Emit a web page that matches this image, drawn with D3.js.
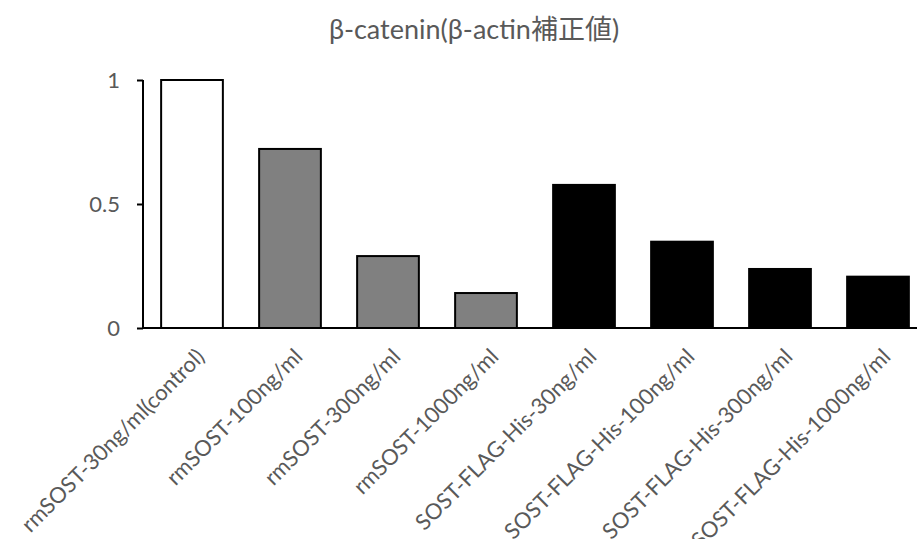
<!DOCTYPE html>
<html><head><meta charset="utf-8">
<script src="https://cdn.jsdelivr.net/npm/d3@7"></script>
<style>body{margin:0;background:#fff;} text{font-family:Lato,"Noto Sans CJK JP",sans-serif;}</style>
</head><body>
<svg id="chart" width="917" height="539"></svg>
<script>
const categories = ["rmSOST-30ng/ml(control)","rmSOST-100ng/ml","rmSOST-300ng/ml","rmSOST-1000ng/ml","SOST-FLAG-His-30ng/ml","SOST-FLAG-His-100ng/ml","SOST-FLAG-His-300ng/ml","SOST-FLAG-His-1000ng/ml"];
const values = [1.0, 0.722, 0.29, 0.141, 0.577, 0.348, 0.238, 0.207];
const groups = ["control","rm","rm","rm","flag","flag","flag","flag"];
const yTicks = [0, 0.5, 1];
const title = "β-catenin(β-actin補正値)";

const fillColor = {control:"#ffffff", rm:"#808080", flag:"#000000"};
const svg = d3.select("#chart");
const pLeft = 143, pRight = 927, pTop = 80, pBottom = 328;
const x = d3.scaleBand().domain(categories).range([pLeft, pRight]).paddingInner(0.37).paddingOuter(0.185);
const y = d3.scaleLinear().domain([0, 1]).range([pBottom, pTop]);

svg.append("text").attr("x", 474).attr("y", 39).attr("text-anchor","middle")
  .attr("fill","#595959").style("font-size","27px").text(title);

svg.selectAll("rect.bar").data(values).enter().append("rect")
  .attr("x", (d,i)=>x(categories[i])).attr("width", x.bandwidth())
  .attr("y", d=>y(d)).attr("height", d=>pBottom-y(d))
  .attr("fill",(d,i)=>fillColor[groups[i]]).attr("stroke","#000").attr("stroke-width",2);

const yAxis = svg.append("g").attr("transform",`translate(${pLeft},0)`)
  .call(d3.axisLeft(y).tickValues(yTicks).tickSize(6).tickPadding(17).tickFormat(d=>d3.format("")(d)));
yAxis.select(".domain").attr("stroke","#000").attr("stroke-width",2).attr("d",`M0,${pTop}V${pBottom}`);
yAxis.selectAll(".tick line").attr("stroke","#000").attr("stroke-width",2);
yAxis.selectAll(".tick text").attr("fill","#595959").style("font-size","22px").style("font-family","Lato");

const xAxis = svg.append("g").attr("transform",`translate(0,${pBottom})`)
  .call(d3.axisBottom(x).tickSize(0).tickPadding(0));
xAxis.select(".domain").attr("stroke","#000").attr("stroke-width",2).attr("d",`M${pLeft},0H${pRight}`);
xAxis.selectAll(".tick text").attr("fill","#595959").style("font-size","22px").style("font-family","Lato")
  .attr("text-anchor","end").attr("dy",null).attr("y",null)
  .attr("transform","translate(14,30) rotate(-45)");
</script>
</body></html>
